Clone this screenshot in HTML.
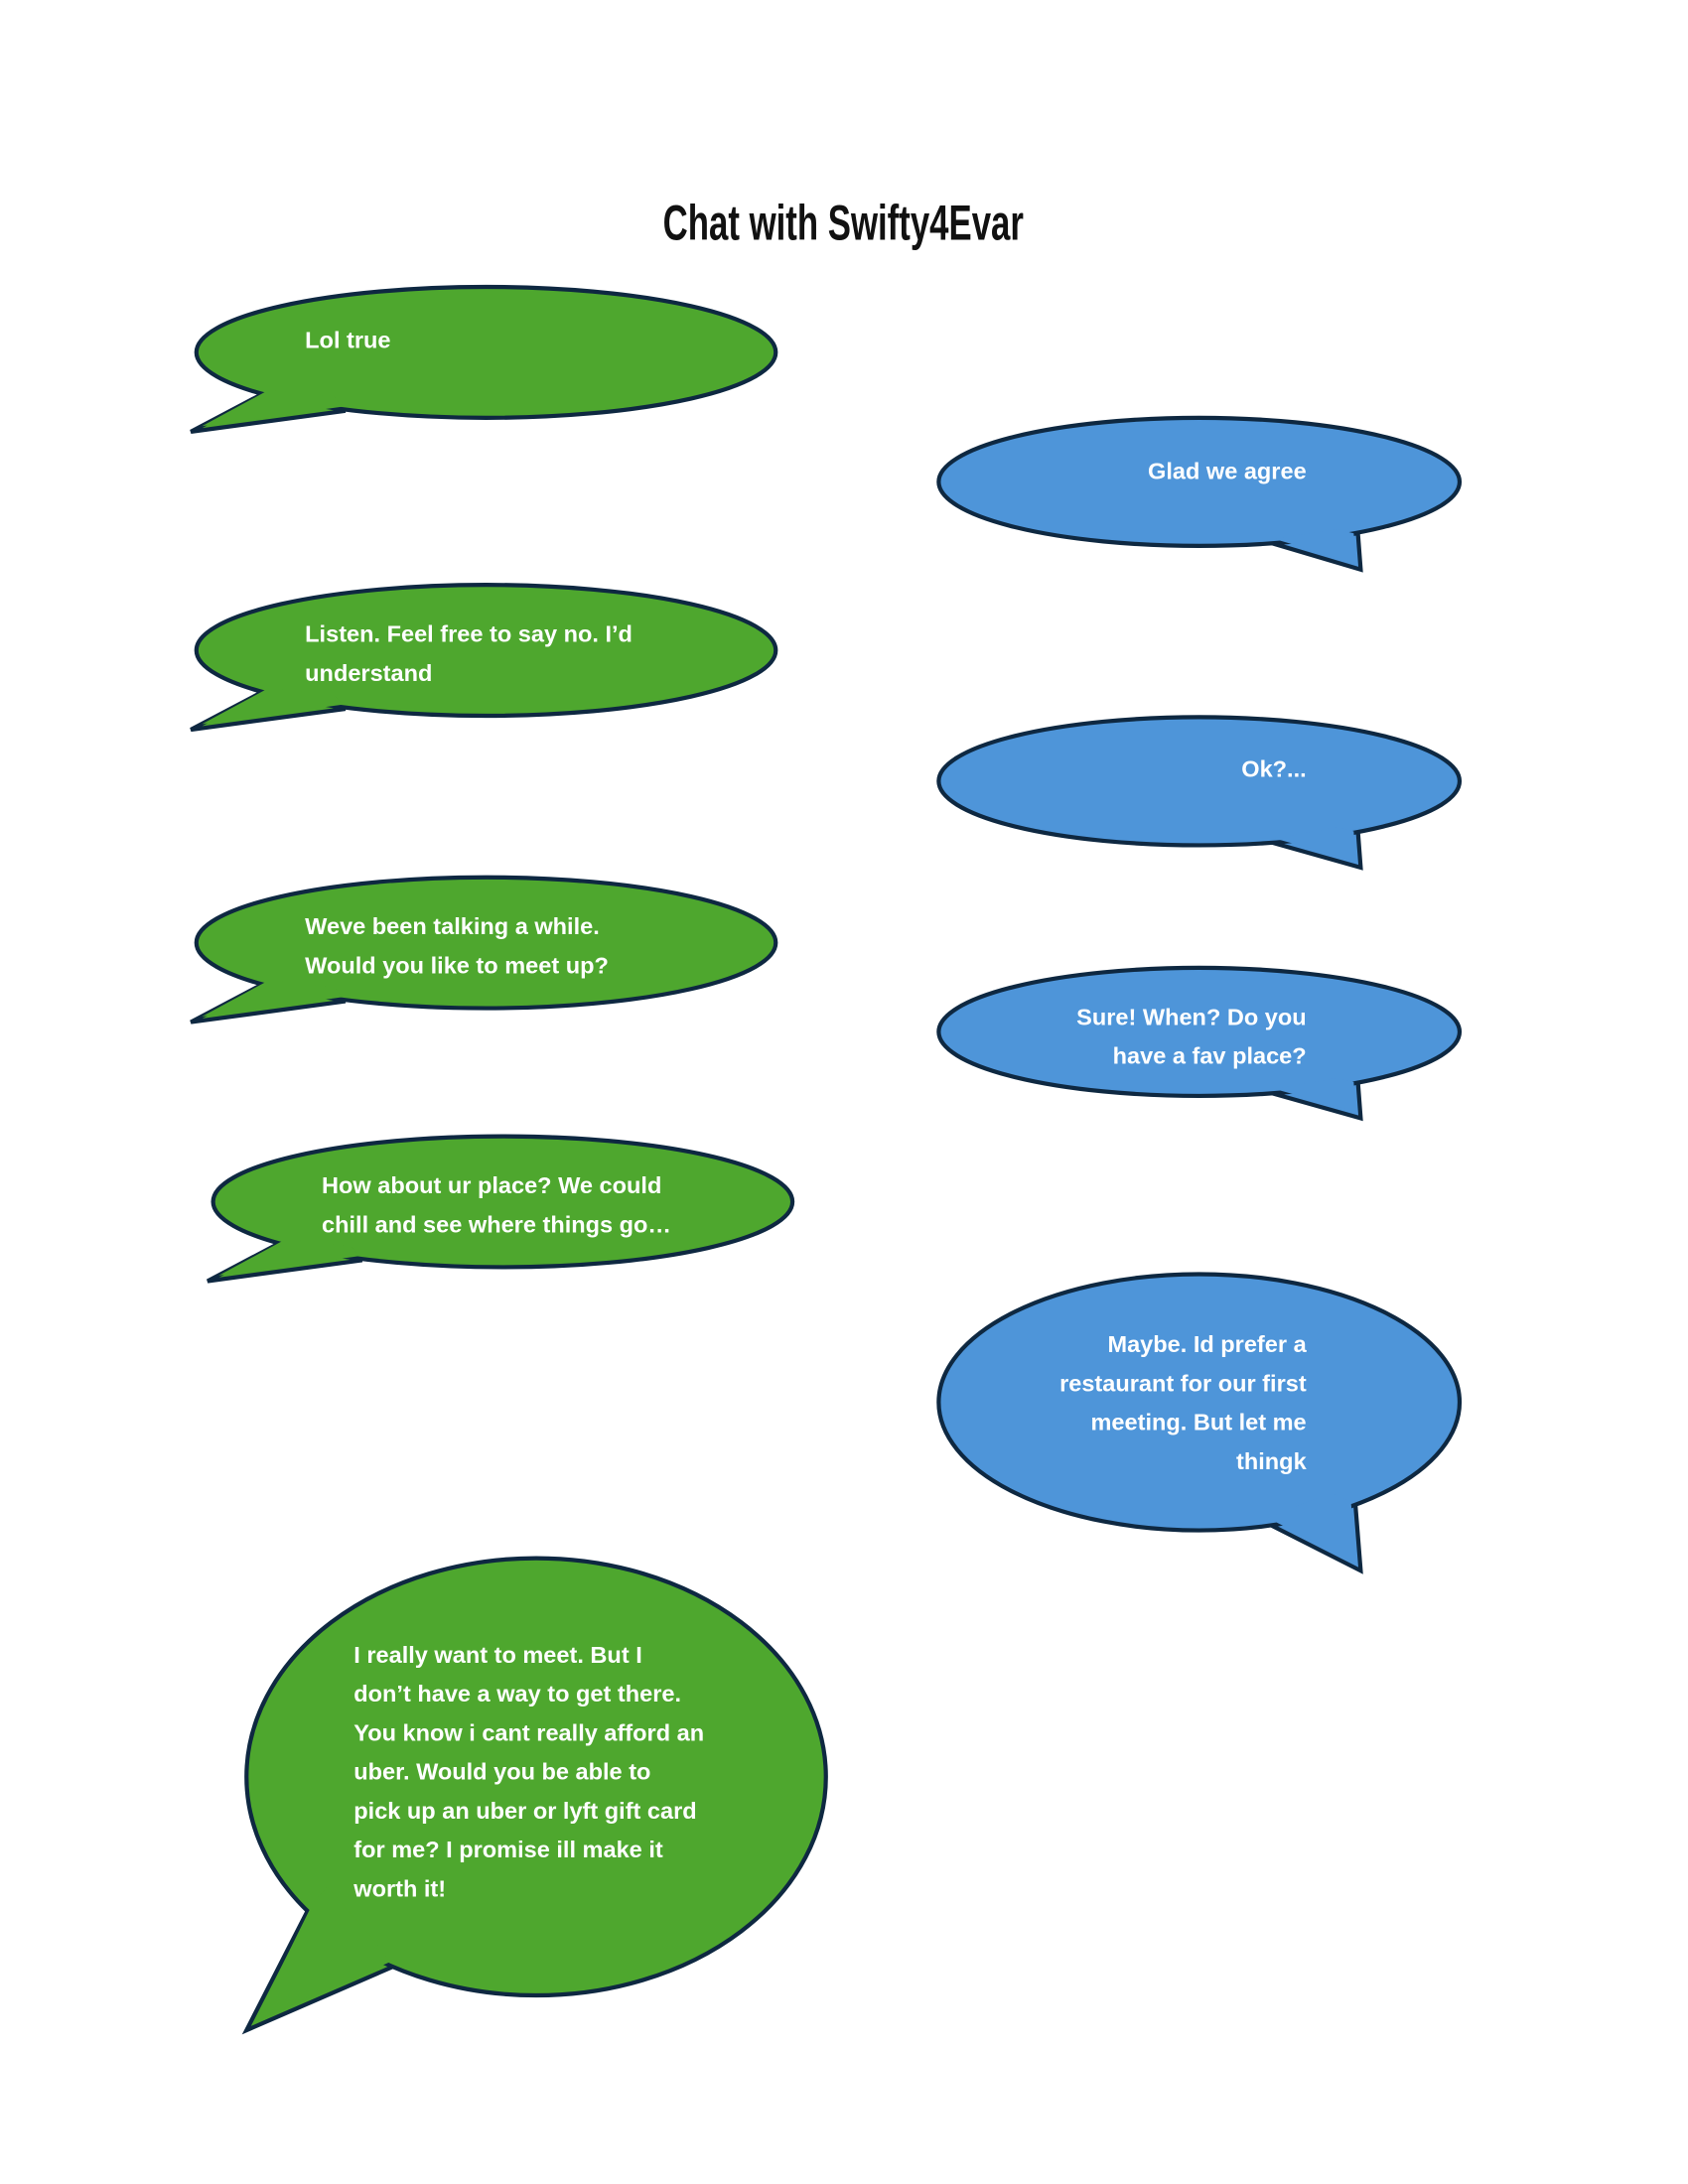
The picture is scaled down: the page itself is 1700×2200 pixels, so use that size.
<!DOCTYPE html>
<html><head><meta charset="utf-8"><style>
html,body{margin:0;padding:0;background:#fff;width:1700px;height:2200px;overflow:hidden}
svg{display:block}
text{font-family:"Liberation Sans",sans-serif;font-weight:bold;fill:#fff;font-size:16.8px}
.t{fill:#111;font-family:"Liberation Sans Narrow","Liberation Sans",sans-serif;font-size:30px}
.g{fill:#4ea72e}.b{fill:#4e95d9}
.s{stroke:#0e2841;stroke-width:3}
</style></head><body>
<svg width="1700" height="2200" viewBox="0 0 1212 1568.4" xmlns="http://www.w3.org/2000/svg">
<text class="t" x="476" y="172" textLength="259" lengthAdjust="spacingAndGlyphs" transform="translate(0 172) scale(1 1.2) translate(0 -172)">Chat with Swifty4Evar</text>

<polygon class="g s" points="190,282 137,310 248,295"/>
<ellipse class="g s" cx="349" cy="253" rx="208" ry="47"/>
<polygon class="g" points="193,280 145,306 246,292 240,285"/>
<text x="219" y="250">Lol true</text>

<polygon class="b s" points="913,390 977,409 975,383"/>
<ellipse class="b s" cx="861" cy="346" rx="187" ry="46"/>
<polygon class="b" points="915,387 973,404 972,383 960,380"/>
<text x="938" y="344" text-anchor="end">Glad we agree</text>

<polygon class="g s" points="190,496 137,524 248,509"/>
<ellipse class="g s" cx="349" cy="467" rx="208" ry="47"/>
<polygon class="g" points="193,494 145,520 246,506 240,499"/>
<text x="219" y="461">Listen. Feel free to say no.  I’d</text>
<text x="219" y="489">understand</text>

<polygon class="b s" points="913,605 977,623 975,597"/>
<ellipse class="b s" cx="861" cy="561" rx="187" ry="46"/>
<polygon class="b" points="915,602 973,618 972,597 960,594"/>
<text x="938" y="558" text-anchor="end">Ok?...</text>

<polygon class="g s" points="190,706 137,734 248,719"/>
<ellipse class="g s" cx="349" cy="677" rx="208" ry="47"/>
<polygon class="g" points="193,704 145,730 246,716 240,709"/>
<text x="219" y="671">Weve been talking a while.</text>
<text x="219" y="699">Would you like to meet up?</text>

<polygon class="b s" points="913,785 977,803 975,777"/>
<ellipse class="b s" cx="861" cy="741" rx="187" ry="46"/>
<polygon class="b" points="915,782 973,798 972,777 960,774"/>
<text x="938" y="736" text-anchor="end">Sure! When? Do you</text>
<text x="938" y="764" text-anchor="end">have a fav place?</text>

<polygon class="g s" points="202,892 149,920 260,905"/>
<ellipse class="g s" cx="361" cy="863" rx="208" ry="47"/>
<polygon class="g" points="205,890 157,916 258,902 252,895"/>
<text x="231" y="857">How about ur place? We could</text>
<text x="231" y="885">chill and see where things go…</text>

<polygon class="b s" points="908,1093 977,1128 973,1078"/>
<ellipse class="b s" cx="861" cy="1007" rx="187" ry="92"/>
<polygon class="b" points="910,1090 973,1122 970,1078 955,1072"/>
<text x="938" y="971" text-anchor="end">Maybe.  Id prefer a</text>
<text x="938" y="999" text-anchor="end">restaurant for our first</text>
<text x="938" y="1027" text-anchor="end">meeting.  But let me</text>
<text x="938" y="1055" text-anchor="end">thingk</text>

<polygon class="g s" points="222,1370 177,1458 283,1412"/>
<ellipse class="g s" cx="385" cy="1276" rx="208" ry="157"/>
<polygon class="g" points="225,1366 183,1451 280,1409 270,1395 235,1355"/>
<text x="254" y="1194">I really want to meet.  But I</text>
<text x="254" y="1222">don’t have a way to get there.</text>
<text x="254" y="1250">You know i cant really afford an</text>
<text x="254" y="1278">uber.  Would you be able to</text>
<text x="254" y="1306">pick up an uber or lyft gift card</text>
<text x="254" y="1334">for me?  I promise ill make it</text>
<text x="254" y="1362">worth it!</text>
</svg>
</body></html>
